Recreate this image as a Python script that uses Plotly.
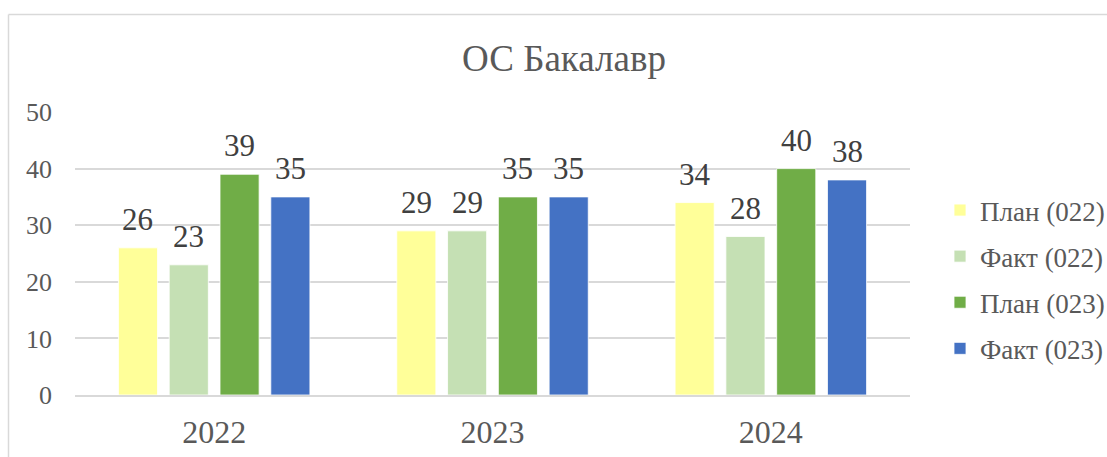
import plotly.graph_objects as go

years = ["2022", "2023", "2024"]
series_names = ["План (022)", "Факт (022)", "План (023)", "Факт (023)"]
plan_022 = [26, 29, 34]
fact_022 = [23, 29, 28]
plan_023 = [39, 35, 40]
fact_023 = [35, 35, 38]
colors = ["#FFFF99", "#C5E0B4", "#70AD47", "#4472C4"]
y_ticks = [0, 10, 20, 30, 40, 50]

FONT = "Liberation Serif"
L, R, T, B = 75, 197, 112, 62
W, H = 1107, 457
pw, ph = W - L - R, H - T - B
BARGAP, GROUPGAP = 0.27, 0.23

all_series = [plan_022, fact_022, plan_023, fact_023]

fig = go.Figure()
for i, (name, vals) in enumerate(zip(series_names, all_series)):
    fig.add_trace(go.Bar(
        x=years, y=vals, name=name,
        marker=dict(color=colors[i], line=dict(color="white", width=0.8)),
        cliponaxis=False, legendgroup=f"g{i}",
    ))

# data labels placed over each bar (x offset follows the grouped-bar slot layout)
slot = pw / len(years) * (1 - BARGAP) / len(all_series)
annotations = []
for i, vals in enumerate(all_series):
    for j, v in enumerate(vals):
        annotations.append(dict(
            x=j, y=v, xref="x", yref="y", text=str(v), showarrow=False,
            xanchor="center", yanchor="bottom",
            xshift=round((i - (len(all_series) - 1) / 2) * slot, 2), yshift=9,
            font=dict(family=FONT, size=31, color="#404040"),
        ))

def px_x(px):
    return (px - L) / pw

def px_y(py):
    return (H - B - py) / ph

fig.update_layout(
    width=W, height=H,
    margin=dict(l=L, r=R, t=T, b=B, autoexpand=False),
    paper_bgcolor="white", plot_bgcolor="white",
    barmode="group", bargap=BARGAP, bargroupgap=GROUPGAP,
    title=dict(text="ОС Бакалавр", x=564 / W, xanchor="center", y=1 - 58 / H, yanchor="middle",
               font=dict(family=FONT, size=37, color="#595959")),
    font=dict(family=FONT, color="#595959"),
    legend=dict(x=px_x(940), y=px_y(186), xanchor="left", yanchor="top",
                font=dict(family=FONT, size=27, color="#595959"),
                tracegroupgap=8, traceorder="grouped", itemwidth=30),
    showlegend=True,
    annotations=annotations,
    xaxis=dict(type="category", range=[-0.5, len(years) - 0.5],
               tickfont=dict(family=FONT, size=32, color="#595959"), showline=True,
               linecolor="#D9D9D9", linewidth=2, ticks="", ticklabelstandoff=8, automargin=False),
    yaxis=dict(range=[0, 50], tickvals=y_ticks, tickfont=dict(family=FONT, size=26, color="#595959"),
               showgrid=True, gridcolor="#D9D9D9", gridwidth=1.5, zeroline=False, showline=False,
               ticks="", ticklabelstandoff=22, automargin=False),
    shapes=[
        dict(type="line", xref="paper", yref="paper", x0=px_x(8.5), x1=px_x(1112), y0=px_y(14.5), y1=px_y(14.5),
             line=dict(color="#D9D9D9", width=1.5)),
        dict(type="line", xref="paper", yref="paper", x0=px_x(8.5), x1=px_x(8.5), y0=px_y(14.5), y1=px_y(462),
             line=dict(color="#D9D9D9", width=1.5)),
    ],
)

fig.write_html("out.html", config={"displayModeBar": False},
               post_script="document.body.style.margin='0';")
